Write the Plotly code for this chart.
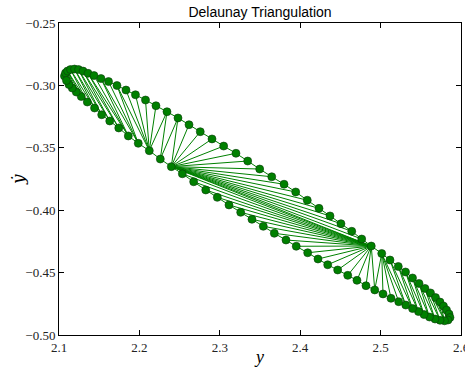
import plotly.graph_objects as go

# Phase-space samples (y, y-dot) taken along one closed orbit.
# Upper branch runs left to right, lower branch returns right to left.
y_vals = [
    2.1068, 2.1081, 2.1106, 2.1143, 2.1193, 2.1243, 2.1299, 2.1361, 2.1435, 2.1522,
    2.1616, 2.1721, 2.1833, 2.1951, 2.2076, 2.2206, 2.2343, 2.2480, 2.2617, 2.2757,
    2.2903, 2.3048, 2.3201, 2.3347, 2.3496, 2.3646, 2.3799, 2.3944, 2.4088, 2.4234,
    2.4371, 2.4507, 2.4641, 2.4765, 2.4884, 2.5014, 2.5117, 2.5220, 2.5310, 2.5397,
    2.5478, 2.5552, 2.5621, 2.5683, 2.5739, 2.5782, 2.5820, 2.5851, 2.5863,
    2.5838, 2.5795, 2.5739, 2.5677, 2.5608, 2.5540, 2.5471, 2.5397, 2.5313, 2.5225,
    2.5129, 2.5030, 2.4927, 2.4818, 2.4706, 2.4591, 2.4466, 2.4342, 2.4221, 2.4093,
    2.3951, 2.3823, 2.3678, 2.3541, 2.3400, 2.3260, 2.3114, 2.2969, 2.2825, 2.2675,
    2.2534, 2.2397, 2.2260, 2.2123, 2.1986, 2.1862, 2.1743, 2.1631, 2.1531, 2.1442,
    2.1352, 2.1277, 2.1215, 2.1165, 2.1124, 2.1093,
]
ydot_vals = [
    -0.2925, -0.2901, -0.2885, -0.2873, -0.2869, -0.2873, -0.2885, -0.2903, -0.2921, -0.2945,
    -0.2969, -0.3001, -0.3037, -0.3075, -0.3117, -0.3163, -0.3211, -0.3261, -0.3315, -0.3371,
    -0.3429, -0.3486, -0.3544, -0.3606, -0.3670, -0.3732, -0.3792, -0.3854, -0.3920, -0.3985,
    -0.4046, -0.4108, -0.4169, -0.4231, -0.4287, -0.4347, -0.4399, -0.4451, -0.4495, -0.4543,
    -0.4587, -0.4627, -0.4663, -0.4700, -0.4736, -0.4768, -0.4800, -0.4832, -0.4860,
    -0.4880, -0.4886, -0.4882, -0.4872, -0.4856, -0.4836, -0.4812, -0.4788, -0.4760, -0.4733,
    -0.4706, -0.4671, -0.4639, -0.4605, -0.4562, -0.4522, -0.4479, -0.4437, -0.4391, -0.4341,
    -0.4289, -0.4239, -0.4185, -0.4129, -0.4073, -0.4017, -0.3958, -0.3897, -0.3838, -0.3772,
    -0.3708, -0.3651, -0.3590, -0.3523, -0.3464, -0.3405, -0.3341, -0.3285, -0.3235, -0.3181,
    -0.3133, -0.3089, -0.3053, -0.3021, -0.2993, -0.2961,
]

# Mesh connectivity as a walk across the strip from the left tip to the right
# tip: "T" advances along the upper branch, "B" along the lower branch; each
# step closes one triangle.
mesh_walk = (
    "BTBTBBBTBTBTBTBTBTTBTTBTTTTTBTB"
    + "TTTTTTTTTTTTTTTTT"
    + "BBBBBBBBBBBBBBBBBBB"
    + "TBBBBT"
    + "BTBTBTBTBTBTBTTB"
    + "TTTT"
)

x_ticks = [2.1, 2.2, 2.3, 2.4, 2.5, 2.6]
y_ticks = [-0.50, -0.45, -0.40, -0.35, -0.30, -0.25]
title_text = "Delaunay Triangulation"
x_label = "<i>y</i>"
y_label = "<i>\u1e8f</i>"


def build_triangles(walk, n_total):
    t, b = 0, n_total - 1
    tris = []
    for step in walk:
        if step == "T":
            tris.append((t, t + 1, b))
            t += 1
        else:
            tris.append((t, b, b - 1))
            b -= 1
    return tris


triangles = build_triangles(mesh_walk, len(y_vals))
edges = set()
for tri in triangles:
    for a, b in ((tri[0], tri[1]), (tri[1], tri[2]), (tri[2], tri[0])):
        edges.add((min(a, b), max(a, b)))

ex, ey = [], []
for a, b in sorted(edges):
    ex += [y_vals[a], y_vals[b], None]
    ey += [ydot_vals[a], ydot_vals[b], None]

fig = go.Figure()
fig.add_trace(go.Scatter(
    x=ex, y=ey, mode="lines",
    line=dict(color="#008000", width=1),
    hoverinfo="skip", showlegend=False,
))
fig.add_trace(go.Scatter(
    x=y_vals, y=ydot_vals, mode="markers",
    marker=dict(size=8, color="#008000", line=dict(color="#0b3a0b", width=0.6)),
    showlegend=False,
))

serif = "Liberation Serif, DejaVu Serif, serif"
axis_common = dict(
    showgrid=False, zeroline=False, automargin=False,
    showline=True, linecolor="black", linewidth=1, mirror="ticks",
    ticks="inside", ticklen=5, tickwidth=1, tickcolor="black",
    ticklabeloverflow="allow",
    tickfont=dict(family=serif, size=13, color="#222222"),
)

fig.update_layout(
    width=465, height=367,
    margin=dict(l=59, r=4, t=23, b=32),
    paper_bgcolor="white", plot_bgcolor="white",
    title=dict(
        text=title_text, x=0.5592, xanchor="center",
        y=1 - 12 / 367, yanchor="middle",
        font=dict(family="Liberation Sans, Arial, sans-serif", size=14, color="black"),
    ),
    xaxis=dict(
        range=[2.1, 2.6], tickvals=x_ticks,
        ticktext=[f"{v:.1f}" for v in x_ticks],
        title=dict(text=x_label, standoff=3,
                   font=dict(family=serif, size=18, color="black")),
        **axis_common,
    ),
    yaxis=dict(
        range=[-0.5, -0.25], tickvals=y_ticks,
        ticktext=[f"\u2212{abs(v):.2f}" for v in y_ticks],
        **axis_common,
    ),
    annotations=[dict(
        text=y_label, textangle=-90, showarrow=False,
        xref="paper", yref="paper", x=-0.102, y=0.5,
        xanchor="center", yanchor="middle",
        font=dict(family="DejaVu Serif, Liberation Serif, serif", size=17, color="black"),
    )],
)

fig.write_html("out.html")
